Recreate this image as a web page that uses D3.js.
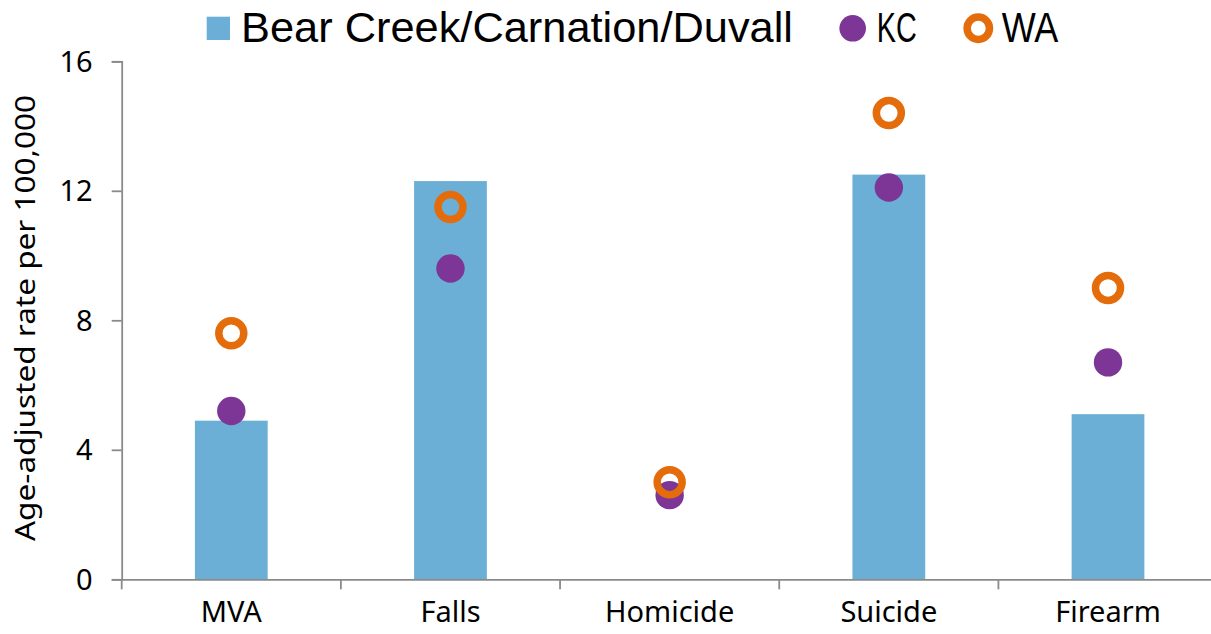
<!DOCTYPE html>
<html>
<head>
<meta charset="utf-8">
<script src="https://cdn.jsdelivr.net/npm/d3@7"></script>
<style>
  html, body { margin: 0; padding: 0; background: #fff; }
  svg { display: block; }
  text { font-family: "Noto Sans", "DejaVu Sans", sans-serif; fill: #000; }
</style>
</head>
<body>
<svg id="chart" width="1211" height="634"></svg>
<script>
const categories = ["MVA", "Falls", "Homicide", "Suicide", "Firearm"];
const areaValues = [4.9, 12.3, null, 12.5, 5.1];   // Bear Creek/Carnation/Duvall
const kcValues   = [5.2, 9.6, 2.6, 12.1, 6.7];     // KC
const waValues   = [7.6, 11.5, 3.0, 14.4, 9.0];    // WA
const yTicks = [0, 4, 8, 12, 16];
const seriesNames = ["Bear Creek/Carnation/Duvall", "KC", "WA"];
const yTitle = "Age-adjusted rate per 100,000";

const colors = { area: "#6BAED6", kc: "#7D3596", wa: "#E46C0A", axis: "#8A8A8A" };

const svg = d3.select("#chart");

const x = d3.scaleBand().domain(categories).range([121.7, 1217.6]).padding(0);
const y = d3.scaleLinear().domain([0, 16]).range([579.3, 61.3]);
const barW = x.bandwidth() * 0.332;

// Bars
svg.append("g").selectAll("rect")
  .data(categories.map((c, i) => ({ c, v: areaValues[i] })).filter(d => d.v != null))
  .join("rect")
  .attr("x", d => x(d.c) + x.bandwidth() / 2 - barW / 2)
  .attr("y", d => y(d.v))
  .attr("width", barW)
  .attr("height", d => y(0) - y(d.v))
  .attr("fill", colors.area);

// Y axis
const yAxis = svg.append("g")
  .attr("transform", `translate(${x.range()[0]},0)`)
  .call(d3.axisLeft(y).tickValues(yTicks).tickSize(10).tickPadding(19).tickFormat(d3.format("d")));
yAxis.select(".domain").attr("stroke", colors.axis).attr("stroke-width", 1.8);
yAxis.selectAll(".tick line").attr("stroke", colors.axis).attr("stroke-width", 1.8);
yAxis.selectAll(".tick text").attr("font-size", 29).attr("font-family", "'Noto Sans', sans-serif").attr("fill", "#000").attr("dy", "0.34em");

// X axis
const xAxis = svg.append("g")
  .attr("transform", `translate(0,${y(0)})`)
  .call(d3.axisBottom(x).tickSize(0).tickPadding(22));
xAxis.select(".domain").attr("stroke", colors.axis).attr("stroke-width", 1.8);
xAxis.selectAll(".tick text").attr("font-size", 29).attr("font-family", "'Noto Sans', sans-serif").attr("fill", "#000").attr("dy", "0.71em");
// category boundary ticks
const bounds = categories.map(c => x(c)).concat([x.range()[1]]);
svg.append("g").selectAll("line").data(bounds).join("line")
  .attr("x1", d => d).attr("x2", d => d)
  .attr("y1", y(0)).attr("y2", y(0) + 10)
  .attr("stroke", colors.axis).attr("stroke-width", 1.8);

// KC points
svg.append("g").selectAll("circle")
  .data(categories.map((c, i) => ({ c, v: kcValues[i] })))
  .join("circle")
  .attr("cx", d => x(d.c) + x.bandwidth() / 2)
  .attr("cy", d => y(d.v))
  .attr("r", 14.2)
  .attr("fill", colors.kc);

// WA points
svg.append("g").selectAll("circle")
  .data(categories.map((c, i) => ({ c, v: waValues[i] })))
  .join("circle")
  .attr("cx", d => x(d.c) + x.bandwidth() / 2)
  .attr("cy", d => y(d.v))
  .attr("r", 12.5)
  .attr("fill", "none")
  .attr("stroke", colors.wa)
  .attr("stroke-width", 7.5);

// Y title
svg.append("text")
  .attr("transform", "translate(35,318) rotate(-90)")
  .attr("text-anchor", "middle")
  .attr("font-size", 28)
  .attr("textLength", 446)
  .attr("lengthAdjust", "spacingAndGlyphs")
  .text(yTitle);

// Legend
const legFont = "'Liberation Sans', Arial, sans-serif";
const lg = svg.append("g");
lg.append("rect").attr("x", 206.7).attr("y", 16.7).attr("width", 23.3).attr("height", 23.3).attr("fill", colors.area);
lg.append("text").attr("x", 241).attr("y", 41.7).attr("font-size", 42).style("font-family", legFont)
  .attr("textLength", 552).attr("lengthAdjust", "spacingAndGlyphs").text(seriesNames[0]);
lg.append("circle").attr("cx", 852.7).attr("cy", 28.3).attr("r", 13.3).attr("fill", colors.kc);
lg.append("text").attr("x", 876.7).attr("y", 41.7).attr("font-size", 42).style("font-family", legFont)
  .attr("textLength", 40).attr("lengthAdjust", "spacingAndGlyphs").text(seriesNames[1]);
lg.append("circle").attr("cx", 978.3).attr("cy", 28.3).attr("r", 11.2)
  .attr("fill", "none").attr("stroke", colors.wa).attr("stroke-width", 7.5);
lg.append("text").attr("x", 1001.7).attr("y", 41.7).attr("font-size", 42).style("font-family", legFont)
  .attr("textLength", 56.7).attr("lengthAdjust", "spacingAndGlyphs").text(seriesNames[2]);
</script>
</body>
</html>
